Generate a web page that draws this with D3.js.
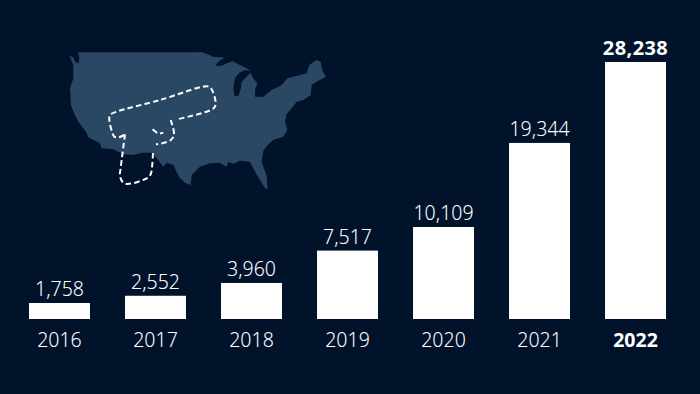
<!DOCTYPE html>
<html>
<head>
<meta charset="utf-8">
<script src="https://cdn.jsdelivr.net/npm/d3@7"></script>
<style>
    html, body { margin: 0; padding: 0; background: #01132a; }
    svg { display: block; }
    text { font-family: "Noto Sans", "Open Sans", sans-serif; fill: #fff; }
</style>
</head>
<body>
<div id="chart"></div>
<script>
const years = ['2016', '2017', '2018', '2019', '2020', '2021', '2022'];
const values = [1758, 2552, 3960, 7517, 10109, 19344, 28238];
const highlightYear = '2022';

// map outline and route, traced by hand in a 870x480 frame
const usOutline = [
    [58,47],[70,52],[76,66],[86,70],[88,55],[84,37],[200,37],[330,37],[440,37],[455,36],[470,42],[490,50],[525,53],
    [508,62],[495,78],[515,77],[530,70],[548,64],[570,75],[590,85],[602,93],[585,90],[568,98],[555,115],
    [550,145],[553,168],[565,168],[572,148],[575,125],[590,110],[602,98],[610,115],[622,130],[615,150],
    [615,170],[640,170],[665,150],[690,138],[700,130],[712,115],[770,100],[778,75],[785,70],[800,60],
    [812,65],[817,92],[828,110],[800,125],[785,135],[782,165],[760,180],[740,185],[725,205],[710,222],
    [705,245],[712,270],[700,290],[670,300],[650,318],[640,333],[635,365],[642,385],[650,408],[653,447],
    [645,445],[630,420],[615,395],[600,365],[570,362],[550,372],[535,365],[530,380],[510,368],[480,370],
    [450,380],[425,405],[422,435],[405,428],[390,415],[378,392],[370,375],[350,368],[340,380],[320,355],
    [305,338],[275,338],[250,345],[220,343],[190,328],[155,325],[150,310],[115,292],[108,275],
    [85,245],[70,215],[63,195],[60,145],[70,115],[70,75],[58,47]
];
const routeParts = [
    [[223,285],[205,292],[193,290],[186,275],[178,240],[180,225],[200,215],[330,180],[470,139],[483,145],[497,190],[491,205],[385,237]],
    [[362,240],[372,285],[360,302],[318,313]],
    [[308,268],[325,280],[340,278]],
    [[225,283],[212,385],[210,410],[225,431],[295,412],[303,400],[309,335]]
];

const width = 700;
const height = 394;
const baseline = 319;
const topY = 62;

const svg = d3.select('#chart').append('svg')
    .attr('width', width)
    .attr('height', height);

const xScale = d3.scaleBand()
    .domain(years)
    .range([29, 666])
    .paddingInner(0.365);
const yScale = d3.scaleLinear()
    .domain([0, d3.max(values)])
    .range([baseline, topY]);

// map
const mapX = d3.scaleLinear().domain([0, 870]).range([50, 340]);
const mapY = d3.scaleLinear().domain([0, 480]).range([40, 200]);

svg.append('path')
    .attr('d', d3.line().x(d => mapX(d[0])).y(d => mapY(d[1]))(usOutline))
    .attr('fill', '#2a4764');

const routeLine = d3.line()
    .x(d => mapX(d[0]))
    .y(d => mapY(d[1]))
    .curve(d3.curveCatmullRom.alpha(0.5));

svg.selectAll('path.route')
    .data(routeParts)
    .join('path')
    .attr('class', 'route')
    .attr('d', routeLine)
    .attr('fill', 'none')
    .attr('stroke', '#fff')
    .attr('stroke-width', 2)
    .attr('stroke-dasharray', '5.5 3.2');

// bars
const data = years.map((year, i) => ({year: year, value: values[i]}));

svg.selectAll('rect.bar')
    .data(data)
    .join('rect')
    .attr('class', 'bar')
    .attr('x', d => xScale(d.year))
    .attr('y', d => yScale(d.value))
    .attr('width', xScale.bandwidth())
    .attr('height', d => baseline - yScale(d.value))
    .attr('fill', '#fff');

svg.selectAll('text.value')
    .data(data)
    .join('text')
    .attr('class', 'value')
    .attr('x', d => xScale(d.year) + xScale.bandwidth() / 2)
    .attr('y', d => yScale(d.value) - 7)
    .attr('text-anchor', 'middle')
    .attr('font-size', d => d.year == highlightYear ? 20 : 19.5)
    .attr('letter-spacing', d => d.year == highlightYear ? 0.4 : 0)
    .attr('font-weight', d => d.year == highlightYear ? 700 : 300)
    .text(d => d3.format(',')(d.value));

// year axis
const yearAxis = d3.axisBottom(xScale).tickSize(0).tickPadding(14);
const axisGroup = svg.append('g')
    .attr('transform', `translate(0,${baseline})`)
    .call(yearAxis);
axisGroup.select('.domain').remove();
axisGroup.selectAll('text')
    .attr('font-size', 19.5)
    .attr('font-weight', d => d == highlightYear ? 700 : 300);
axisGroup.attr('font-family', null);
</script>
</body>
</html>
